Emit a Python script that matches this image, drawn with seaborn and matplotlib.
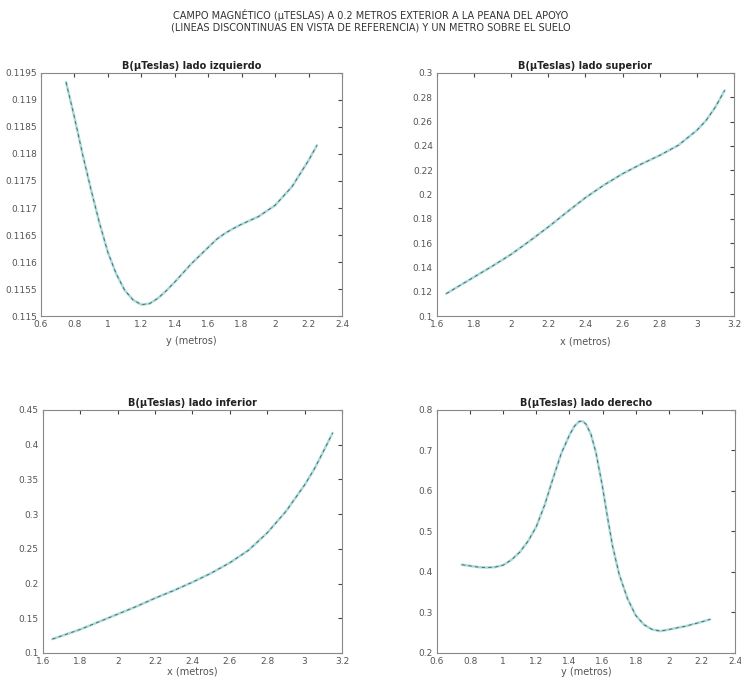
import numpy as np
import matplotlib
matplotlib.use("Agg")
import matplotlib.pyplot as plt
import seaborn as sns
import pandas as pd

# lado izquierdo: B vs y
izq_pos = [0.75, 0.8, 0.85, 0.9, 0.95, 1.0, 1.05, 1.1, 1.15, 1.2, 1.25, 1.3, 1.35, 1.4,
           1.5, 1.6, 1.65, 1.7, 1.75, 1.8, 1.9, 2.0, 2.1, 2.2, 2.25]
izq_b = [0.11933, 0.11868, 0.11798, 0.11733, 0.11672, 0.11618, 0.11578, 0.11548, 0.11530,
         0.11521, 0.11523, 0.11533, 0.11547, 0.11563, 0.11597, 0.11627, 0.11642, 0.11653,
         0.11662, 0.11670, 0.11684, 0.11705, 0.11739, 0.11788, 0.11816]

# lado superior: B vs x
sup_pos = [1.65, 1.8, 1.9, 2.0, 2.1, 2.2, 2.3, 2.4, 2.5, 2.6, 2.7, 2.8, 2.9, 3.0, 3.05, 3.1, 3.15]
sup_b = [0.1184, 0.1321, 0.1412, 0.1508, 0.1618, 0.1733, 0.1855, 0.1974, 0.2078, 0.2171,
         0.2250, 0.2322, 0.2405, 0.2528, 0.2610, 0.2720, 0.2857]

# lado inferior: B vs x
inf_pos = [1.65, 1.8, 1.9, 2.0, 2.1, 2.2, 2.3, 2.4, 2.5, 2.6, 2.7, 2.8, 2.9, 3.0, 3.05, 3.1, 3.15]
inf_b = [0.120, 0.134, 0.145, 0.156, 0.167, 0.179, 0.190, 0.202, 0.215, 0.230, 0.248, 0.273,
         0.304, 0.342, 0.364, 0.390, 0.417]

# lado derecho: B vs y
der_pos = [0.75, 0.8, 0.85, 0.9, 0.95, 1.0, 1.05, 1.1, 1.15, 1.2, 1.25, 1.3, 1.35, 1.4, 1.43,
           1.46, 1.48, 1.5, 1.53, 1.56, 1.6, 1.63, 1.66, 1.7, 1.75, 1.8, 1.85, 1.9, 1.95, 2.0,
           2.1, 2.2, 2.25]
der_b = [0.418, 0.415, 0.412, 0.411, 0.412, 0.417, 0.430, 0.449, 0.476, 0.512, 0.565, 0.630,
         0.692, 0.738, 0.760, 0.772, 0.772, 0.765, 0.740, 0.695, 0.610, 0.535, 0.465, 0.395,
         0.335, 0.293, 0.270, 0.258, 0.254, 0.258, 0.266, 0.277, 0.283]

sns.set_style("white")
plt.rcParams['font.family'] = ['DejaVu Sans']
plt.rcParams['xtick.direction'] = 'in'
plt.rcParams['ytick.direction'] = 'in'

fig = plt.figure(figsize=(7.41, 6.79), dpi=100)

paneles = [
    ([0.0553, 0.5346, 0.4062, 0.3579], izq_pos, izq_b, 'B(µTeslas) lado izquierdo', 'y (metros)',
     (0.6, 2.4), np.arange(0.6, 2.41, 0.2), ['0.6', '0.8', '1', '1.2', '1.4', '1.6', '1.8', '2', '2.2', '2.4'],
     (0.115, 0.1195), np.arange(0.115, 0.11951, 0.0005),
     ['0.115', '0.1155', '0.116', '0.1165', '0.117', '0.1175', '0.118', '0.1185', '0.119', '0.1195'], 5),
    ([0.5897, 0.5346, 0.4008, 0.3579], sup_pos, sup_b, 'B(µTeslas) lado superior', 'x (metros)',
     (1.6, 3.2), np.arange(1.6, 3.21, 0.2), ['1.6', '1.8', '2', '2.2', '2.4', '2.6', '2.8', '3', '3.2'],
     (0.1, 0.3), np.arange(0.1, 0.301, 0.02),
     ['0.1', '0.12', '0.14', '0.16', '0.18', '0.2', '0.22', '0.24', '0.26', '0.28', '0.3'], 5),
    ([0.058, 0.0383, 0.4035, 0.3579], inf_pos, inf_b, 'B(µTeslas) lado inferior', 'x (metros)',
     (1.6, 3.2), np.arange(1.6, 3.21, 0.2), ['1.6', '1.8', '2', '2.2', '2.4', '2.6', '2.8', '3', '3.2'],
     (0.1, 0.45), np.arange(0.1, 0.451, 0.05),
     ['0.1', '0.15', '0.2', '0.25', '0.3', '0.35', '0.4', '0.45'], 0.5),
    ([0.5897, 0.0383, 0.4022, 0.3579], der_pos, der_b, 'B(µTeslas) lado derecho', 'y (metros)',
     (0.6, 2.4), np.arange(0.6, 2.41, 0.2), ['0.6', '0.8', '1', '1.2', '1.4', '1.6', '1.8', '2', '2.2', '2.4'],
     (0.2, 0.8), np.arange(0.2, 0.801, 0.1),
     ['0.2', '0.3', '0.4', '0.5', '0.6', '0.7', '0.8'], 0.5),
]

for rect, pos, b, titulo, xlab, xlim, xt, xtl, ylim, yt, ytl, lpad in paneles:
    ax = fig.add_axes(rect)
    df = pd.DataFrame({'pos': pos, 'B': b})
    sns.lineplot(data=df, x='pos', y='B', ax=ax, color='#a6dcdc', linewidth=1.8)
    sns.lineplot(data=df, x='pos', y='B', ax=ax, color='#555555', linewidth=0.6,
                 linestyle=(0, (4, 4)))
    ax.set_xlim(*xlim)
    ax.set_ylim(*ylim)
    ax.set_xticks(xt)
    ax.set_xticklabels(xtl)
    ax.set_yticks(yt)
    ax.set_yticklabels(ytl)
    ax.tick_params(labelsize=6.5, colors='#444444', length=3, top=True, right=True,
                   labelcolor='#555555', pad=3)
    for s in ax.spines.values():
        s.set_color('#888888')
        s.set_linewidth(0.8)
    ax.set_title(titulo, fontsize=7, fontweight='bold', pad=3, color='#222222')
    ax.set_xlabel(xlab, fontsize=7, color='#555555', labelpad=lpad)
    ax.set_ylabel('')

fig.text(0.5, 0.978, 'CAMPO MAGNÉTICO (µTESLAS) A 0.2 METROS EXTERIOR A LA PEANA DEL APOYO',
         ha='center', va='center', fontsize=7, color='#333333')
fig.text(0.5, 0.960, '(LINEAS DISCONTINUAS EN VISTA DE REFERENCIA) Y UN METRO SOBRE EL SUELO',
         ha='center', va='center', fontsize=7, color='#333333')

fig.savefig('out.png', dpi=100)
plt.close(fig)
